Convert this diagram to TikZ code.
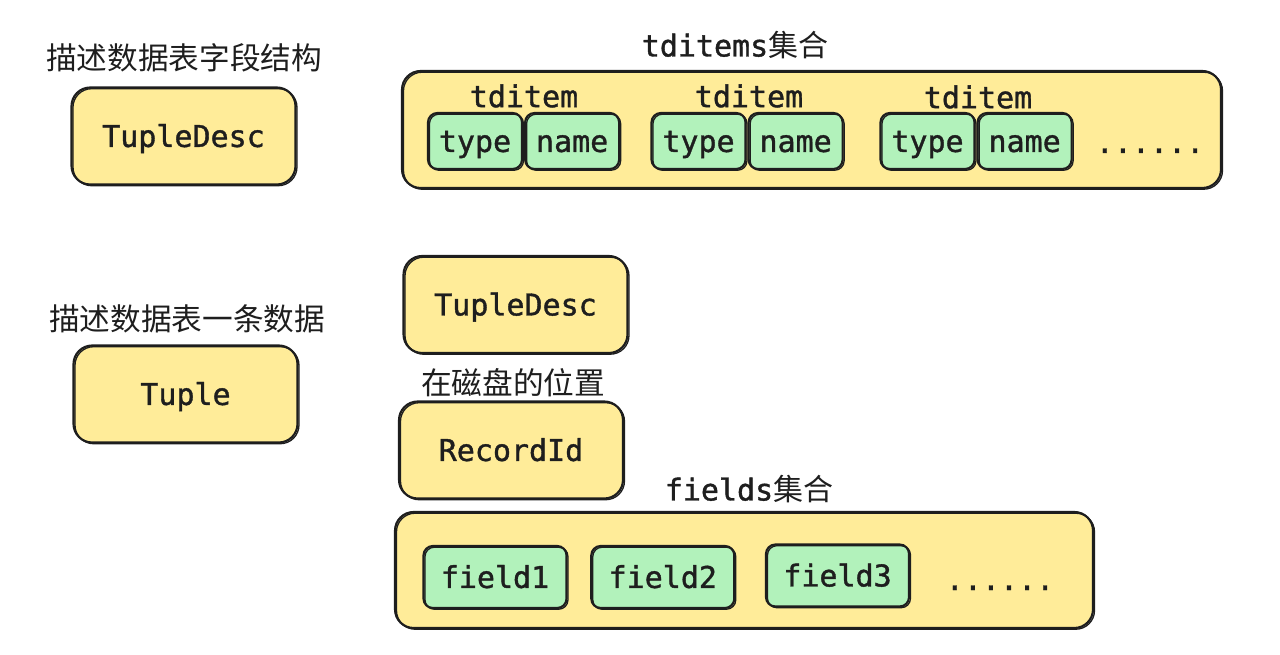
\documentclass[tikz,border=0pt]{standalone}
\usepackage{fontspec}
\setmonofont{DejaVu Sans Mono}[FakeBold=1.2]
\newfontfamily\cjk{Noto Sans CJK SC}
\usetikzlibrary{positioning, calc}
\definecolor{boxyellow}{HTML}{FFEC99}
\definecolor{boxgreen}{HTML}{B2F2BB}
\definecolor{ink}{HTML}{1E1E1E}

\begin{document}
\begin{tikzpicture}[
    x=0.75pt, y=-0.75pt,
    font=\fontsize{22.5}{26}\selectfont\ttfamily,
    % --- box styles ---
    sketch/.style   = {draw=ink, line width=1.6pt, rounded corners=14pt,
                       postaction={draw=ink, line width=1pt,
                                   transform canvas={shift={(1.1pt,-0.9pt)}}}},
    cardbox/.style  = {sketch, fill=boxyellow, minimum width=168pt,
                       minimum height=72.75pt, inner sep=0pt, text=ink,
                       text height=16.4pt, text depth=0pt},
    setbox/.style   = {sketch, fill=boxyellow, inner sep=0pt},
    itembox/.style  = {sketch, fill=boxgreen, rounded corners=7pt,
                       minimum width=70.5pt, minimum height=42pt,
                       inner sep=0pt, text=ink,
                       text height=16.4pt, text depth=0pt},
    fieldbox/.style = {itembox, minimum width=107.25pt, minimum height=46.5pt},
    heading/.style  = {text=ink, inner sep=0pt},
    cjknote/.style  = {text=ink, inner sep=0pt, font=\fontsize{23}{26}\selectfont\cjk}
]
\useasboundingbox (0,0) rectangle (1280,655);

% ===================== LEFT COLUMN =====================
\node[cjknote] (desclbl)  at (184,58)    {描述数据表字段结构};
\node[cardbox] (descbox)  at (183.5,136) {TupleDesc};
\node[cjknote] (tuplelbl) at (187,319)   {描述数据表一条数据};
\node[cardbox] (tuplebox) at (185.5,394) {Tuple};

% ===================== TDITEMS =====================
\node[heading] (setlbl) at (735,45) {tditems{\cjk 集合}};
\node[setbox, minimum width=614.25pt, minimum height=87.75pt] (tdset) at (811.5,129.5) {};

\node[itembox] (type1) at (475,141) {type};
\node[itembox, right=0.75pt of type1] (name1) {name};
\node[itembox] (type2) at (698.5,141) {type};
\node[itembox, right=0.75pt of type2] (name2) {name};
\node[itembox] (type3) at (927.5,141) {type};
\node[itembox, right=0.75pt of type3] (name3) {name};

\node[heading] (item1) at (524,96) {tditem};
\node[heading] (item2) at (749,96) {tditem};
\node[heading] (item3) at (978,97) {tditem};
\node[heading, anchor=base] (dots1) at (1150,153) {......};

% ===================== TUPLE PARTS =====================
\node[cardbox] (partdesc) at (515.5,304.5) {TupleDesc};
\node[cjknote] (disklbl)  at (513,383)     {在磁盘的位置};
\node[cardbox] (rid)      at (511,450)     {RecordId};

% ===================== FIELDS =====================
\node[heading] (fieldlbl) at (749,489) {fields{\cjk 集合}};
\node[setbox, minimum width=523.5pt, minimum height=87pt] (fieldset) at (744,570) {};

\node[fieldbox] (field1) at (495,577) {field1};
\node[fieldbox, right=17pt of field1] (field2) {field2};
\node[fieldbox] (field3) at (837.5,575.5) {field3};
\node[heading, anchor=base] (dots2) at (1000,590) {......};

\end{tikzpicture}
\end{document}
